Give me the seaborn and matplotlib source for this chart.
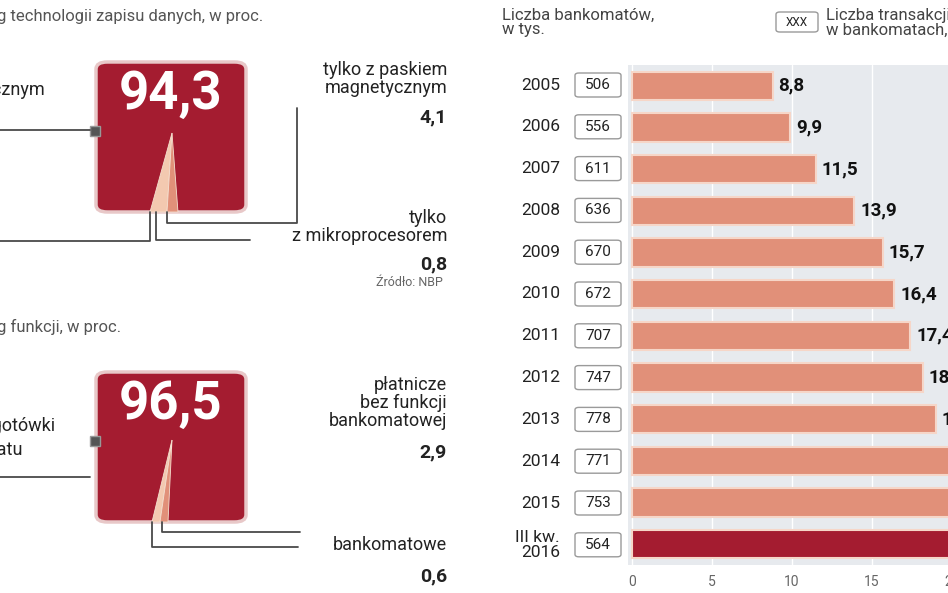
import matplotlib
matplotlib.use("Agg")
import matplotlib.pyplot as plt
import seaborn as sns
import pandas as pd
from matplotlib.patches import FancyBboxPatch, Polygon, Rectangle
from matplotlib.lines import Line2D

years = ["2005", "2006", "2007", "2008", "2009", "2010", "2011", "2012", "2013", "2014", "2015", "III kw.\n2016"]
atm_thousands = [506, 556, 611, 636, 670, 672, 707, 747, 778, 771, 753, 564]
transactions = [8.8, 9.9, 11.5, 13.9, 15.7, 16.4, 17.4, 18.2, 19.0, 20.6, 21.0, 20.4]
value_labels = ["8,8", "9,9", "11,5", "13,9", "15,7", "16,4", "17,4", "18,2", "19,0", "20,6", "21,0", "20,4"]
tech_share = [94.3, 4.1, 0.8]
func_share = [96.5, 2.9, 0.6]
x_ticks = [0, 5, 10, 15, 20]

W, H = 948, 593
sns.set_theme(style="white")
plt.rcParams['font.family'] = ['Roboto', 'DejaVu Sans']
fig = plt.figure(figsize=(W/100, H/100), dpi=100)
fig.patch.set_facecolor("white")

def fx(x): return x / W
def fy(y): return 1 - y / H

RED = "#a41c30"
SALMON = "#e19079"
GRAY = "#4a4a4a"
TXT = "#222222"

# ---------- bar chart ----------
ax = fig.add_axes([fx(628), fy(565), 330/W, 500/H])
df = pd.DataFrame({"year": years, "val": transactions,
                   "kind": ["hist"]*11 + ["now"]})
sns.barplot(data=df, y="year", x="val", hue="kind", orient="h",
            palette={"hist": SALMON, "now": RED}, width=0.68, saturation=1,
            edgecolor="#f6d6c8", linewidth=1.5, legend=False, ax=ax)
ax.set_facecolor("#e7eaee")
ax.set_xlim(-0.25, -0.25 + 330/16)
ax.set_ylim(11.5, -0.5)
ax.set_xticks(x_ticks)
ax.set_xticklabels([str(t) for t in x_ticks], color="#666666", fontsize=10)
ax.tick_params(axis="x", length=0, pad=7)
ax.set_yticks([])
ax.set_xlabel(""); ax.set_ylabel("")
for s in ax.spines.values():
    s.set_visible(False)
ax.grid(axis="x", color="white", linewidth=1)
ax.set_axisbelow(True)
for i, (v, lab) in enumerate(zip(transactions, value_labels)):
    ax.text(v + 0.35, i, lab, va="center", ha="left", fontsize=13.5,
            fontweight="bold", color="#111111", clip_on=False)
for i, (yr, n) in enumerate(zip(years, atm_thousands)):
    yc = 85 + i * 41.8
    fig.text(fx(560), fy(yc), yr, ha="right", va="center", fontsize=12.5,
             color=TXT, linespacing=1.0)
    fig.patches.append(FancyBboxPatch((fx(575), fy(yc + 12)), 46/W, 24/H,
                       boxstyle="round,pad=0,rounding_size=0.004",
                       transform=fig.transFigure, facecolor="white",
                       edgecolor="#9a9a9a", linewidth=1))
    fig.text(fx(598), fy(yc), str(n), ha="center", va="center",
             fontsize=11, color=TXT)

fig.text(fx(502), fy(8), "Liczba bankomatów,\nw tys.", ha="left", va="top",
         fontsize=12, color="#444444", linespacing=0.95)
fig.patches.append(FancyBboxPatch((fx(776), fy(32)), 42/W, 20/H,
                   boxstyle="round,pad=0,rounding_size=0.004",
                   transform=fig.transFigure, facecolor="white",
                   edgecolor="#9a9a9a", linewidth=1))
fig.text(fx(797), fy(22), "XXX", ha="center", va="center", fontsize=8.5, color=TXT)
fig.text(fx(826), fy(8), "Liczba transakcji\nw bankomatach, w mln", ha="left",
         va="top", fontsize=12, color="#444444", linespacing=0.95)

# ---------- left infographic ----------
def panel(top, value, wedges):
    fig.patches.append(FancyBboxPatch((fx(96), fy(top + 150)), 150/W, 150/H,
                       boxstyle="round,pad=0,rounding_size=0.012",
                       transform=fig.transFigure, facecolor=RED,
                       edgecolor="#e8c8c8", linewidth=2.5))
    fig.text(fx(171), fy(top + 32), value, ha="center", va="center",
             fontsize=38, fontweight="bold", color="white")
    for pts, col in wedges:
        fig.patches.append(Polygon([(fx(x), fy(y)) for x, y in pts],
                           closed=True, transform=fig.transFigure,
                           facecolor=col, edgecolor="#f5e0d0", linewidth=0.6))
    fig.patches.append(Rectangle((fx(90), fy(top + 74)), 10/W, 10/H,
                       transform=fig.transFigure, facecolor="#555555",
                       edgecolor="#999999", linewidth=1))

def line(pts):
    fig.add_artist(Line2D([fx(x) for x, y in pts], [fy(y) for x, y in pts],
                          transform=fig.transFigure, color=GRAY, linewidth=1.3))

panel(62, "94,3", [([(172, 133), (150, 212), (167, 212)], "#f3c9b0"),
                   ([(172, 133), (167, 212), (178, 212)], SALMON)])
panel(372, "96,5", [([(172, 440), (152, 522), (160, 522)], "#f3c9b0"),
                    ([(172, 440), (160, 522), (168, 522)], SALMON)])

fig.text(fx(-12), fy(17), "ug technologii zapisu danych, w proc.", ha="left",
         va="center", fontsize=12, color="#555555")
fig.text(fx(-12), fy(327), "ug funkcji, w proc.", ha="left", va="center",
         fontsize=12, color="#555555")
fig.text(fx(45), fy(90), "magnetycznym", ha="right", va="center", fontsize=13, color=TXT)
fig.text(fx(55), fy(426), "wypłaty gotówki", ha="right", va="center", fontsize=13, color=TXT)
fig.text(fx(22), fy(450), "z bankomatu", ha="right", va="center", fontsize=13, color=TXT)

fig.text(fx(447), fy(79), "tylko z paskiem\nmagnetycznym", ha="right", va="center",
         fontsize=13, color=TXT, linespacing=1.0)
fig.text(fx(447), fy(117), "4,1", ha="right", va="center", fontsize=14,
         fontweight="bold", color=TXT)
fig.text(fx(447), fy(227), "tylko\nz mikroprocesorem", ha="right", va="center",
         fontsize=13, color=TXT, linespacing=1.0)
fig.text(fx(447), fy(264), "0,8", ha="right", va="center", fontsize=14,
         fontweight="bold", color=TXT)
fig.text(fx(443), fy(282), "Źródło: NBP", ha="right", va="center", fontsize=9,
         color="#666666")
fig.text(fx(447), fy(403), "płatnicze\nbez funkcji\nbankomatowej", ha="right",
         va="center", fontsize=13, color=TXT, linespacing=1.0)
fig.text(fx(447), fy(452), "2,9", ha="right", va="center", fontsize=14,
         fontweight="bold", color=TXT)
fig.text(fx(447), fy(545), "bankomatowe", ha="right", va="center", fontsize=13, color=TXT)
fig.text(fx(447), fy(576), "0,6", ha="right", va="center", fontsize=14,
         fontweight="bold", color=TXT)

line([(0, 130), (90, 130)])
line([(0, 241), (150, 241), (150, 212)])
line([(156, 212), (156, 240), (250, 240)])
line([(167, 212), (167, 223), (297, 223), (297, 108)])
line([(0, 477), (90, 477)])
line([(152, 522), (152, 547), (298, 547)])
line([(162, 522), (162, 532), (300, 532)])

fig.savefig("out.png", dpi=100, facecolor="white")
